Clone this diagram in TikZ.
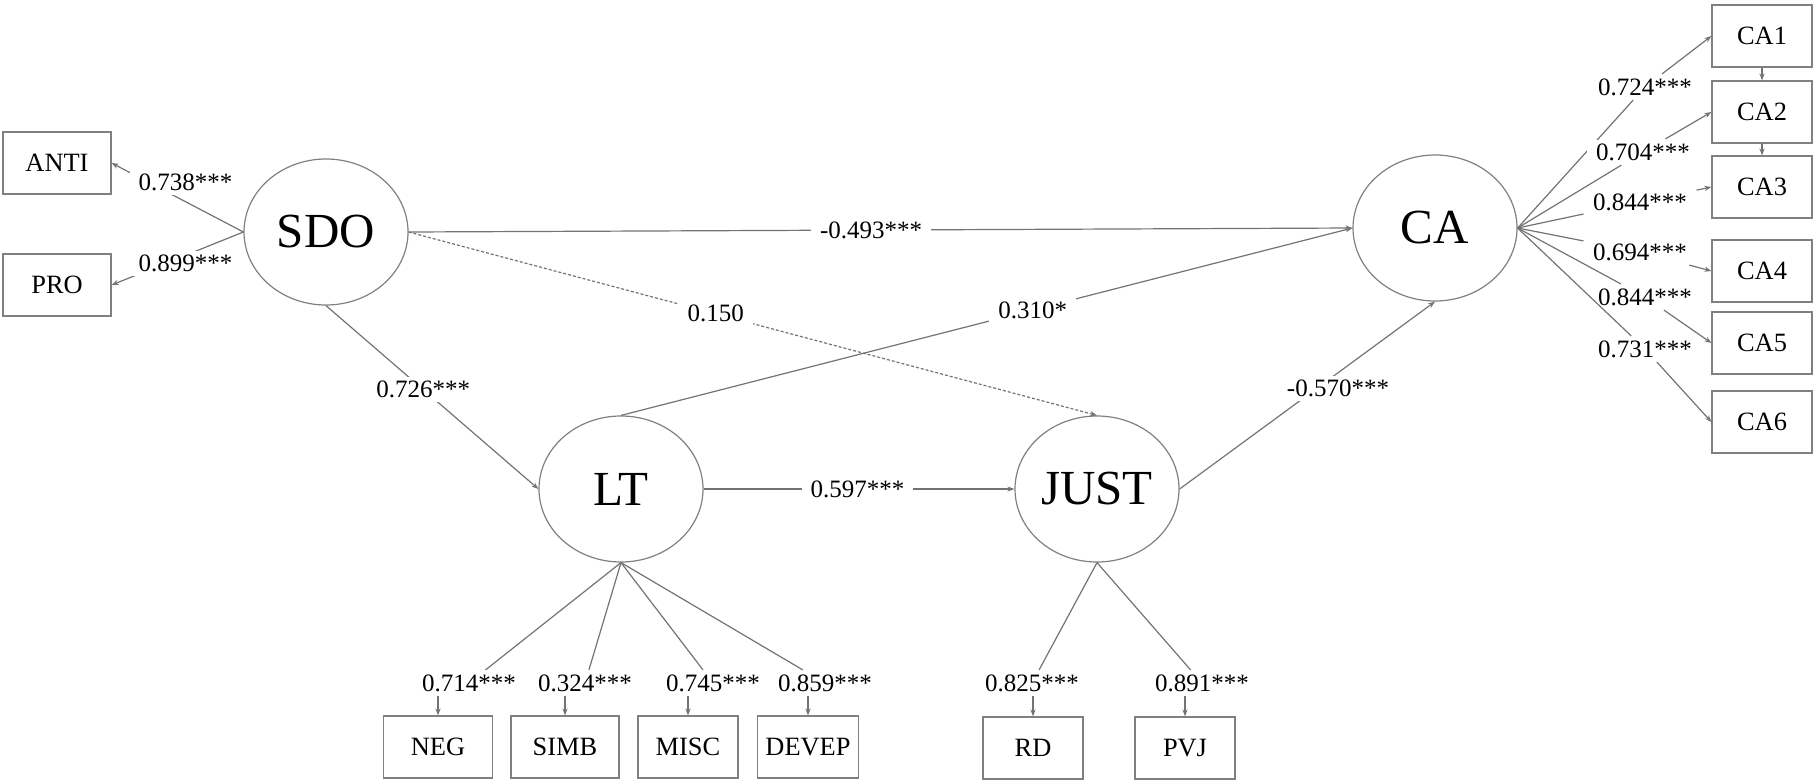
\documentclass[tikz,border=0pt]{standalone}
\usepackage{fontspec}
\setmainfont{Liberation Serif}
\usetikzlibrary{arrows.meta,shapes.geometric}

\begin{document}
\begin{tikzpicture}[x=0.5pt,y=-0.5pt,line width=0.6pt,
  latent/.style={draw=black!50, ellipse, minimum width=82pt, minimum height=73pt, inner sep=0pt, font=\fontsize{24.5}{26}\selectfont},
  obs/.style={draw=black!50, rectangle, minimum width=50pt, minimum height=31pt, inner sep=0pt, font=\fontsize{13.2}{15}\selectfont},
  coef/.style={fill=white, inner xsep=4.5pt, inner ysep=2pt, font=\fontsize{12.5}{14}\selectfont},
  load/.style={draw=black!55},
  regline/.style={draw=black!55, -{Stealth[length=3.5pt,width=2.6pt]}}]
  \useasboundingbox (0,0) rectangle (1813,782);
  % latent variables
  \node[latent] (sdo) at (326,232) {SDO};
  \node[latent] (ca) at (1435,228) {CA};
  \node[latent] (lt) at (621,489) {LT};
  \node[latent] (just) at (1097,489) {JUST};
  % structural paths
  \draw[regline, dash pattern=on 1.5pt off 1pt] (sdo.east) -- node[coef, pos=0.446] {0.150} (just.north);
  \draw[regline] (sdo.east) -- node[coef, pos=0.49] {-0.493***} (ca.west);
  \draw[regline] (lt.north) -- node[coef, pos=0.563] {0.310*} (ca.west);
  \draw[regline] (sdo.south) -- node[coef, pos=0.458] {0.726***} (lt.west);
  \draw[regline] (lt.east) -- node[coef, pos=0.495] {0.597***} (just.west);
  \draw[regline] (just.east) -- node[coef, pos=0.62, yshift=-8pt] {-0.570***} (ca.south);
  % SDO indicators
  \node[obs, minimum width=54pt] (anti) at (57,163) {ANTI};
  \node[obs, minimum width=54pt] (pro) at (57,285) {PRO};
  \draw[regline] (sdo.west) -- node[coef, pos=0.44, yshift=9.5pt] {0.738***} (anti.east);
  \draw[regline] (sdo.west) -- node[coef, pos=0.44, yshift=-4pt] {0.899***} (pro.east);
  % CA indicators
  \foreach \i/\y/\lx/\ly/\v in {1/36/1645/87/0.724, 2/112/1643/152/0.704, 3/187/1640/202/0.844, 4/271/1640/252/0.694, 5/343/1645/297/0.844, 6/422/1645/349/0.731}
  {
    \node[obs] (ca\i) at (1762,\y) {CA\i};
    \node[coef] (cl\i) at (\lx,\ly) {\v***};
    \draw[load] (ca.east) -- (cl\i);
    \draw[regline] (cl\i) -- (ca\i.west);
  }
  \draw[regline] (ca1.south) -- (ca2.north);
  \draw[regline] (ca2.south) -- (ca3.north);
  % LT and JUST indicators
  \foreach \n/\t/\x/\w/\lx/\v in {neg/NEG/438/54.5/469/0.714, simb/SIMB/565/54/585/0.324, misc/MISC/688/50/713/0.745, devep/DEVEP/808/50.5/825/0.859}
  {
    \node[obs, minimum width=\w pt] (\n) at (\x,747) {\t};
    \node[coef] (l\n) at (\lx,683) {\v***};
    \draw[load] (lt.south) -- (l\n);
    \draw[regline] (l\n.south -| \n.north) -- (\n.north);
  }
  \foreach \n/\t/\x/\lx/\v in {rd/RD/1033/1032/0.825, pvj/PVJ/1185/1202/0.891}
  {
    \node[obs] (\n) at (\x,748) {\t};
    \node[coef] (l\n) at (\lx,683) {\v***};
    \draw[load] (just.south) -- (l\n);
    \draw[regline] (l\n.south -| \n.north) -- (\n.north);
  }
\end{tikzpicture}
\end{document}
